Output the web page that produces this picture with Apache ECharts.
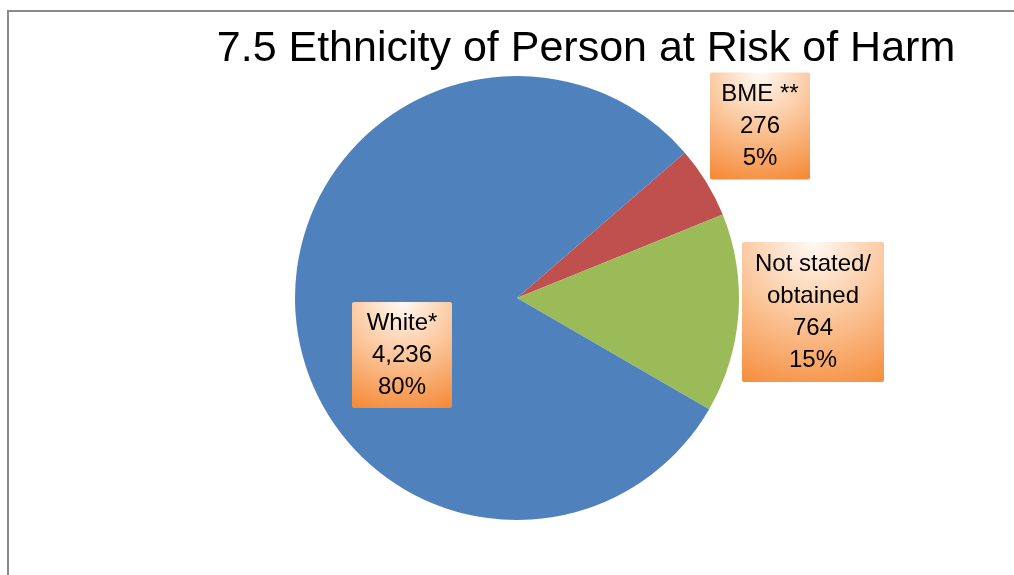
<!DOCTYPE html>
<html>
<head>
<meta charset="utf-8">
<script src="https://cdn.jsdelivr.net/npm/echarts@6/dist/echarts.min.js"></script>
<style>
  html, body { margin: 0; padding: 0; background: #fff; overflow: hidden; }
  #chart { width: 1014px; height: 575px; }
</style>
</head>
<body>
<div id="chart"></div>
<script>
// data
const categories = ['BME **', 'Not stated/\nobtained', 'White*'];
const values = [276, 764, 4236];
const colors = ['#c0504d', '#9bbb59', '#4f81bd'];

// label boxes (center x, center y, width, height)
const boxes = [
  [760, 126, 100, 107],
  [813, 312, 142, 140],
  [402, 355, 100, 106],
];

const font = '"Liberation Sans", Arial, sans-serif';

const orangeFill = {
  type: 'radial', x: 0.5, y: 0, r: 1.15,
  colorStops: [
    { offset: 0, color: '#fffaf5' },
    { offset: 0.45, color: '#fbc9a0' },
    { offset: 1, color: '#f58a38' },
  ],
};

let chart = echarts.init(document.getElementById('chart'));
chart.setOption({
  animation: false,
  title: {
    text: '7.5 Ethnicity of Person at Risk of Harm',
    left: 581,
    top: 23,
    textAlign: 'center',
    textStyle: { fontFamily: font, fontSize: 43, fontWeight: 'normal', color: '#000' },
  },
  graphic: [
    {
      type: 'rect',
      shape: { x: 8, y: 11, width: 1200, height: 800 },
      style: { fill: 'none', stroke: '#8a8a8a', lineWidth: 2 },
      silent: true,
    },
  ],
  series: [
    {
      type: 'pie',
      center: [517, 298],
      radius: 222,
      startAngle: 40.9,
      clockwise: true,
      percentPrecision: 0,
      itemStyle: { borderWidth: 0 },
      labelLine: { show: false },
      label: {
        show: true,
        position: 'outside',
        fontFamily: font,
        fontSize: 24,
        lineHeight: 32,
        color: '#000',
        align: 'center',
        verticalAlign: 'middle',
        backgroundColor: orangeFill,
        borderRadius: 2,
        padding: [6, 0, 0, 0],
        formatter: (p) => p.name + '\n' + p.value.toLocaleString('en-GB') + '\n' + p.percent + '%',
      },
      labelLayout: (p) => {
        const b = boxes[p.dataIndex];
        return { x: b[0], y: b[1], align: 'center', verticalAlign: 'middle', width: b[2], height: b[3] - 6 };
      },
      data: categories.map((c, i) => ({ name: c, value: values[i], itemStyle: { color: colors[i] } })),
    },
  ],
});
</script>
</body>
</html>
